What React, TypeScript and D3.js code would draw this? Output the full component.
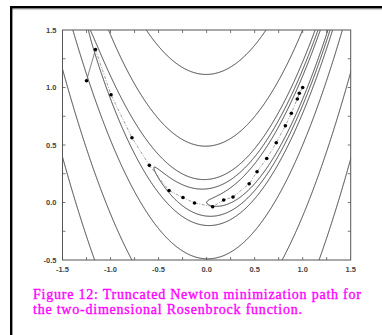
import React, { useEffect, useRef } from 'react';
import * as d3 from 'd3';

// axis ticks
const xTickValues = [-1.5, -1.0, -0.5, 0.0, 0.5, 1.0, 1.5];
const xTickLabels = ['-1.5', '-1.0', '-0.5', '0.0', '0.5', '1.0', '1.5'];
const yTickValues = [-0.5, 0.0, 0.5, 1.0, 1.5];
const yTickLabels = ['-0.5', '0.0', '0.5', '1.0', '1.5'];
const xMinorTicks = [-1.25, -1.0, -0.75, -0.5, -0.25, 0, 0.25, 0.5, 0.75, 1.0, 1.25];
const yMinorTicks = [-0.25, 0, 0.25, 0.5, 0.75, 1.0, 1.25];

// contour levels of the Rosenbrock function
const levels = [1, 2.4, 5, 25, 125, 350];

// truncated Newton iterates
const pathX = [-1.25, -1.157, -0.995, -0.777, -0.596, -0.391, -0.246, -0.126, 0.063, 0.178, 0.275, 0.443, 0.525, 0.626, 0.725, 0.82, 0.882, 0.944, 0.965, 1.0];
const pathY = [1.059, 1.33, 0.937, 0.563, 0.323, 0.104, 0.043, -0.004, -0.037, 0.022, 0.048, 0.163, 0.268, 0.383, 0.52, 0.667, 0.776, 0.9, 0.95, 1.0];

const captionLines = [
  'Figure 12: Truncated Newton minimization path for',
  'the two-dimensional Rosenbrock function.',
];

const rosen = (x, y) => 100 * (y - x * x) ** 2 + (1 - x) ** 2;

const App = () => {
  const svgRef = useRef(null);

  useEffect(() => {
    const width = 382;
    const height = 335;
    const plot = { left: 62.5, right: 350.7, top: 30, bottom: 260 };

    d3.select(svgRef.current).selectAll('*').remove();
    const svg = d3.select(svgRef.current)
      .attr('width', width)
      .attr('height', height);

    svg.append('rect').attr('width', width).attr('height', height).attr('fill', 'white');

    // window frame
    svg.append('line').attr('x1', 10).attr('x2', width).attr('y1', 9.6).attr('y2', 9.6)
      .attr('stroke', '#d0d0d0').attr('stroke-width', 1);
    svg.append('line').attr('x1', 10).attr('x2', width).attr('y1', 7.3).attr('y2', 7.3)
      .attr('stroke', '#000').attr('stroke-width', 2.6);
    svg.append('line').attr('x1', 11.2).attr('x2', 11.2).attr('y1', 6).attr('y2', height)
      .attr('stroke', '#000').attr('stroke-width', 2.4);

    const x = d3.scaleLinear().domain([-1.5, 1.5]).range([plot.left, plot.right]);
    const y = d3.scaleLinear().domain([-0.5, 1.5]).range([plot.bottom, plot.top]);

    // contours
    const step = 0.005;
    const gx0 = -1.6;
    const gy1 = 1.6;
    const nx = Math.round(3.2 / step) + 1;
    const ny = Math.round(2.2 / step) + 1;
    const values = new Array(nx * ny);
    for (let j = 0; j < ny; j++) {
      for (let i = 0; i < nx; i++) {
        values[j * nx + i] = rosen(gx0 + i * step, gy1 - j * step);
      }
    }
    const contours = d3.contours().size([nx, ny]).thresholds(levels)(values);
    const proj = d3.geoTransform({
      point: function (px, py) {
        this.stream.point(x(gx0 + (px - 0.5) * step), y(gy1 - (py - 0.5) * step));
      },
    });
    const geo = d3.geoPath(proj);

    svg.append('clipPath').attr('id', 'plotclip')
      .append('rect')
      .attr('x', plot.left).attr('y', plot.top)
      .attr('width', plot.right - plot.left).attr('height', plot.bottom - plot.top);

    svg.append('g')
      .attr('clip-path', 'url(#plotclip)')
      .selectAll('path')
      .data(contours)
      .join('path')
      .attr('d', geo)
      .attr('fill', 'none')
      .attr('stroke', '#2a2a2a')
      .attr('stroke-width', 0.9);

    // minimization path
    const pts = pathX.map((v, i) => [v, pathY[i]]);
    const line = d3.line().x(d => x(d[0])).y(d => y(d[1]));
    svg.append('path')
      .datum(pts.slice(0, 2))
      .attr('d', line)
      .attr('fill', 'none')
      .attr('stroke', '#666')
      .attr('stroke-width', 0.8);
    svg.append('path')
      .datum(pts.slice(1))
      .attr('d', line)
      .attr('fill', 'none')
      .attr('stroke', '#888')
      .attr('stroke-width', 0.8)
      .attr('stroke-dasharray', '3,1.5,1,1.5');
    svg.append('g')
      .selectAll('circle')
      .data(pts)
      .join('circle')
      .attr('cx', d => x(d[0]))
      .attr('cy', d => y(d[1]))
      .attr('r', 1.8)
      .attr('fill', '#000');

    // frame and ticks
    const axisColor = '#555';
    svg.append('rect')
      .attr('x', plot.left).attr('y', plot.top)
      .attr('width', plot.right - plot.left).attr('height', plot.bottom - plot.top)
      .attr('fill', 'none').attr('stroke', axisColor).attr('stroke-width', 1);

    const tk = 3;
    const ticks = svg.append('g').attr('stroke', axisColor).attr('stroke-width', 0.8);
    xMinorTicks.forEach(v => {
      ticks.append('line').attr('x1', x(v)).attr('x2', x(v)).attr('y1', plot.bottom).attr('y2', plot.bottom - tk);
      ticks.append('line').attr('x1', x(v)).attr('x2', x(v)).attr('y1', plot.top).attr('y2', plot.top + tk);
    });
    yMinorTicks.forEach(v => {
      ticks.append('line').attr('x1', plot.left).attr('x2', plot.left + tk).attr('y1', y(v)).attr('y2', y(v));
      ticks.append('line').attr('x1', plot.right).attr('x2', plot.right - tk).attr('y1', y(v)).attr('y2', y(v));
    });

    const labelFont = '"Liberation Sans", Arial, sans-serif';
    svg.append('g')
      .selectAll('text')
      .data(xTickValues)
      .join('text')
      .attr('x', d => x(d))
      .attr('y', plot.bottom + 12)
      .attr('text-anchor', 'middle')
      .attr('font-family', labelFont)
      .attr('font-size', 7.5)
      .attr('font-weight', 'bold')
      .attr('fill', '#444')
      .text((d, i) => xTickLabels[i]);

    svg.append('g')
      .selectAll('text')
      .data(yTickValues)
      .join('text')
      .attr('x', plot.left - 6)
      .attr('y', d => y(d))
      .attr('dy', '0.35em')
      .attr('text-anchor', 'end')
      .attr('font-family', labelFont)
      .attr('font-size', 7.5)
      .attr('font-weight', 'bold')
      .attr('fill', '#444')
      .text((d, i) => yTickLabels[i]);

    // caption
    const capWidths = [328, 269];
    svg.append('g')
      .selectAll('text')
      .data(captionLines)
      .join('text')
      .attr('x', 33)
      .attr('y', (d, i) => 298.5 + i * 15)
      .attr('font-family', '"Liberation Serif", "Times New Roman", serif')
      .attr('font-size', 14)
      .attr('fill', '#ff00ff')
      .attr('stroke', '#ff00ff')
      .attr('stroke-width', 0.35)
      .attr('textLength', (d, i) => capWidths[i])
      .attr('lengthAdjust', 'spacing')
      .text(d => d);
  }, []);

  return <svg ref={svgRef} style={{ position: 'absolute', left: 0, top: 0 }} />;
};

export default App;
